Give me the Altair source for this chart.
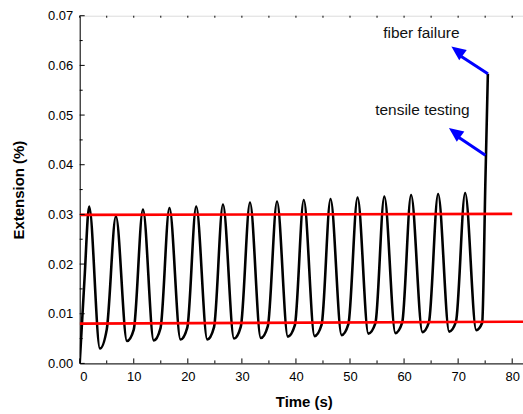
import altair as alt
import pandas as pd

# ---- data ----
start_t = [0.0, 0.9]
start_v = [0.0, 0.0172]

peak_t = [1.75, 6.7, 11.7, 16.6, 21.55, 26.5, 31.5, 36.5, 41.45, 46.4, 51.4, 56.35, 61.3, 66.3, 71.3]
peak_v = [0.0316, 0.0296, 0.0310, 0.0313, 0.0316, 0.0320, 0.0324, 0.0326, 0.0329, 0.0331,
          0.0334, 0.0336, 0.0339, 0.0341, 0.0343]

trough_t = [3.75, 8.75, 13.7, 18.65, 23.6, 28.55, 33.5, 38.5, 43.45, 48.45, 53.4, 58.4, 63.4, 68.35, 73.35]
trough_v = [0.0030, 0.0045, 0.0046, 0.0048, 0.0048, 0.0050, 0.0051, 0.0054, 0.0055, 0.0057,
            0.0060, 0.0061, 0.0063, 0.0064, 0.0067]

shoulder_t = [5.0, 10.0, 14.95, 19.9, 24.85, 29.8, 34.8, 39.8, 44.75, 49.7, 54.7, 59.65, 64.6, 69.6]
shoulder_v = [0.0068, 0.0068, 0.0071, 0.0072, 0.0073, 0.0074, 0.0075, 0.0077, 0.0078, 0.0079,
              0.0081, 0.0082, 0.0083, 0.0084]

failure_t = [74.45, 75.05, 75.5]
failure_v = [0.0082, 0.0370, 0.0583]

red_upper_t = [0.0, 80.0]
red_upper_v = [0.0299, 0.0301]
red_lower_t = [0.0, 82.0]
red_lower_v = [0.0080, 0.0084]

arrow_start_t = [75.5, 75.05]
arrow_start_v = [0.0583, 0.0419]
arrow_base_t = [70.6, 70.15]
arrow_base_v = [0.0618, 0.0455]
arrow_tip_t = [68.75, 68.3]
arrow_tip_v = [0.0638, 0.0474]

label_text = ["fiber failure", "tensile testing"]
label_t = [63.2, 63.4]
label_v = [0.0666, 0.0511]

x_major = [0, 10, 20, 30, 40, 50, 60, 70, 80]
x_minor = [5, 15, 25, 35, 45, 55, 65, 75]
y_major = [0.0, 0.01, 0.02, 0.03, 0.04, 0.05, 0.06, 0.07]
y_minor = [0.005, 0.015, 0.025, 0.035, 0.045, 0.055, 0.065]

# ---- tables ----
pts = pd.DataFrame({
    "t": start_t + peak_t + trough_t + shoulder_t + failure_t,
    "v": start_v + peak_v + trough_v + shoulder_v + failure_v,
}).sort_values("t").reset_index(drop=True)

red = pd.DataFrame({
    "t": red_upper_t + red_lower_t,
    "v": red_upper_v + red_lower_v,
    "s": ["upper", "upper", "lower", "lower"],
})

shafts = pd.DataFrame({
    "t": arrow_start_t + arrow_base_t,
    "v": arrow_start_v + arrow_base_v,
    "a": [0, 1, 0, 1],
})
heads = pd.DataFrame({"t": arrow_tip_t, "v": arrow_tip_v})
labels = pd.DataFrame({"text": label_text, "t": label_t, "v": label_v})

W, H = 445, 349
FONT = "Liberation Sans"
xs = alt.Scale(domain=[0, 82], nice=False, zero=False)
ys = alt.Scale(domain=[0, 0.07], nice=False, zero=False)

xaxis = alt.Axis(values=x_major, format="d", tickSize=0, labelPadding=7, labelFontSize=13,
                 labelFont=FONT, labelColor="black", title="Time (s)", titleFont=FONT,
                 titleFontSize=15, titleFontWeight="bold", titleColor="black",
                 titleX=225, titleY=38, titleBaseline="middle", domainColor="black",
                 domainWidth=1, grid=False)
yaxis = alt.Axis(values=y_major, format=".2f", tickSize=0, labelPadding=7, labelFontSize=13,
                 labelFont=FONT, labelColor="black", title="Extension (%)", titleFont=FONT,
                 titleFontSize=15, titleFontWeight="bold", titleColor="black",
                 titleX=-61, titleY=174.5, titleBaseline="middle", domainColor="black",
                 domainWidth=1, grid=False)

curve = alt.Chart(pts).mark_line(color="black", strokeWidth=2.6, interpolate="monotone", clip=True).encode(
    x=alt.X("t:Q", scale=xs, axis=xaxis),
    y=alt.Y("v:Q", scale=ys, axis=yaxis),
)

redlines = alt.Chart(red).mark_line(color="#ff0000", strokeWidth=2.6, clip=True).encode(
    x=alt.X("t:Q", scale=xs), y=alt.Y("v:Q", scale=ys), detail="s:N"
)

def xticks(vals, length, top=False):
    df = pd.DataFrame({"t": vals})
    if top:
        yy, yy2 = alt.value(0), alt.value(length)
    else:
        yy, yy2 = alt.value(H), alt.value(H - length)
    return alt.Chart(df).mark_rule(color="black", strokeWidth=1).encode(
        x=alt.X("t:Q", scale=xs), y=yy, y2=yy2)

def yticks(vals, length):
    df = pd.DataFrame({"v": vals})
    return alt.Chart(df).mark_rule(color="black", strokeWidth=1).encode(
        y=alt.Y("v:Q", scale=ys), x=alt.value(0), x2=alt.value(length))

arrow_shafts = alt.Chart(shafts).mark_line(color="#0000ff", strokeWidth=3).encode(
    x=alt.X("t:Q", scale=xs), y=alt.Y("v:Q", scale=ys), detail="a:N"
)
arrow_heads = alt.Chart(heads).mark_point(
    shape="M0,0L-0.7,1.6L0.7,1.6Z", filled=True, color="#0000ff", opacity=1,
    size=330, angle=306.6, strokeWidth=0
).encode(x=alt.X("t:Q", scale=xs), y=alt.Y("v:Q", scale=ys))

texts = alt.Chart(labels).mark_text(font=FONT, fontSize=15.5, color="#111111",
                                    align="center", baseline="middle").encode(
    x=alt.X("t:Q", scale=xs), y=alt.Y("v:Q", scale=ys), text="text:N"
)

chart = alt.layer(
    curve, redlines,
    xticks(x_major, 5), xticks(x_minor, 3), xticks(x_major + x_minor, 2, top=True),
    yticks(y_major, 5), yticks(y_minor, 3),
    arrow_shafts, arrow_heads, texts,
).properties(
    width=W, height=H,
    autosize=alt.AutoSizeParams(type="none"),
    padding={"left": 80, "top": 15, "right": 0, "bottom": 50},
).configure_view(stroke="black", strokeWidth=1).configure(background="white")

chart.save("out.html", embed_options={"renderer": "svg", "actions": False})
